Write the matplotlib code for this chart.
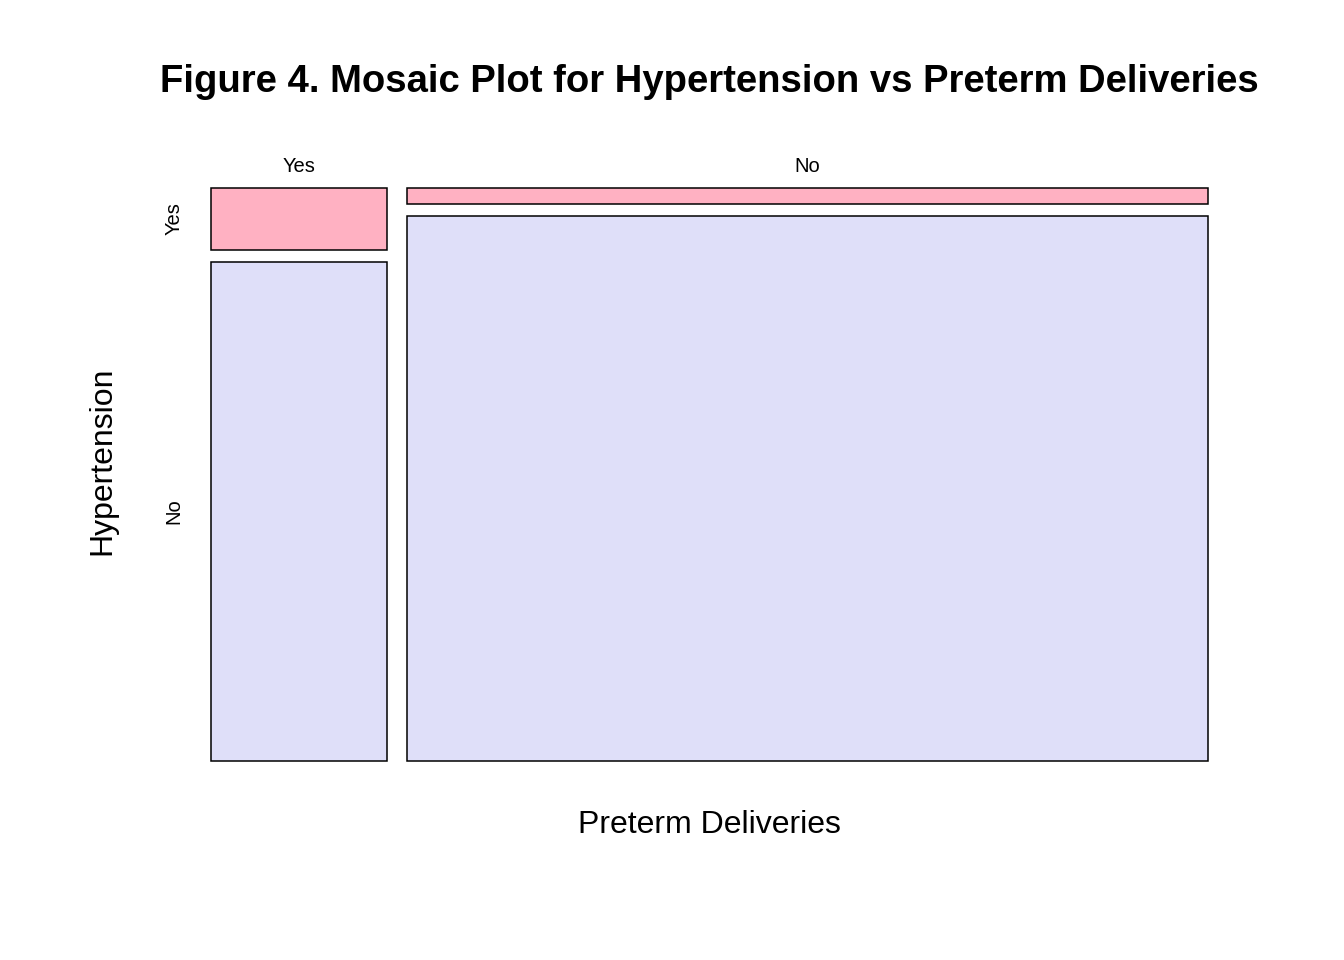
import matplotlib
matplotlib.use("Agg")
import matplotlib.pyplot as plt
from matplotlib.patches import Rectangle

plt.rcParams['font.family'] = ['Liberation Sans', 'DejaVu Sans']

# counts: rows = preterm deliveries, inner split = hypertension
preterm = ["Yes", "No"]
hypertension = ["Yes", "No"]
counts = [[20, 161],   # preterm Yes: hyp Yes, hyp No
          [23, 801]]   # preterm No
colors = ["#FFB1C2", "#DFDFF9"]

fig = plt.figure(figsize=(13.44, 9.6), dpi=100)
W, H = 1344, 960
x0, x1, y0, y1 = 211, 1208, 188, 761
ax = fig.add_axes([x0 / W, 1 - y1 / H, (x1 - x0) / W, (y1 - y0) / H])
ax.set_xlim(0, 1)
ax.set_ylim(0, 1)
ax.axis("off")

gx = 20 / (x1 - x0)
gy = 12 / (y1 - y0)
totals = [sum(r) for r in counts]
grand = sum(totals)
avail_x = 1 - gx * (len(preterm) - 1)

x = 0
for i, row in enumerate(counts):
    w = avail_x * totals[i] / grand
    avail_y = 1 - gy * (len(hypertension) - 1)
    top = 1
    for j, c in enumerate(row):
        h = avail_y * c / totals[i]
        ax.add_patch(Rectangle((x, top - h), w, h, facecolor=colors[j],
                               edgecolor="black", linewidth=1.1, clip_on=False))
        if i == 0:
            ax.text(-37 / (x1 - x0), top - h / 2, hypertension[j], rotation=90,
                    ha="center", va="center", fontsize=14.5)
        top -= h + gy
    ax.text(x + w / 2, 1 + 21 / (y1 - y0), preterm[i], ha="center",
            va="center", fontsize=14.5)
    x += w + gx

fig.text((x0 + x1) / 2 / W, 1 - 82 / H,
         "Figure 4. Mosaic Plot for Hypertension vs Preterm Deliveries",
         ha="center", va="center", fontsize=27.5, fontweight="bold")
fig.text((x0 + x1) / 2 / W, 1 - 825 / H, "Preterm Deliveries",
         ha="center", va="center", fontsize=23)
fig.text(102 / W, 1 - 461 / H, "Hypertension", rotation=90,
         ha="center", va="center", fontsize=23)

fig.savefig("out.png", dpi=100)
